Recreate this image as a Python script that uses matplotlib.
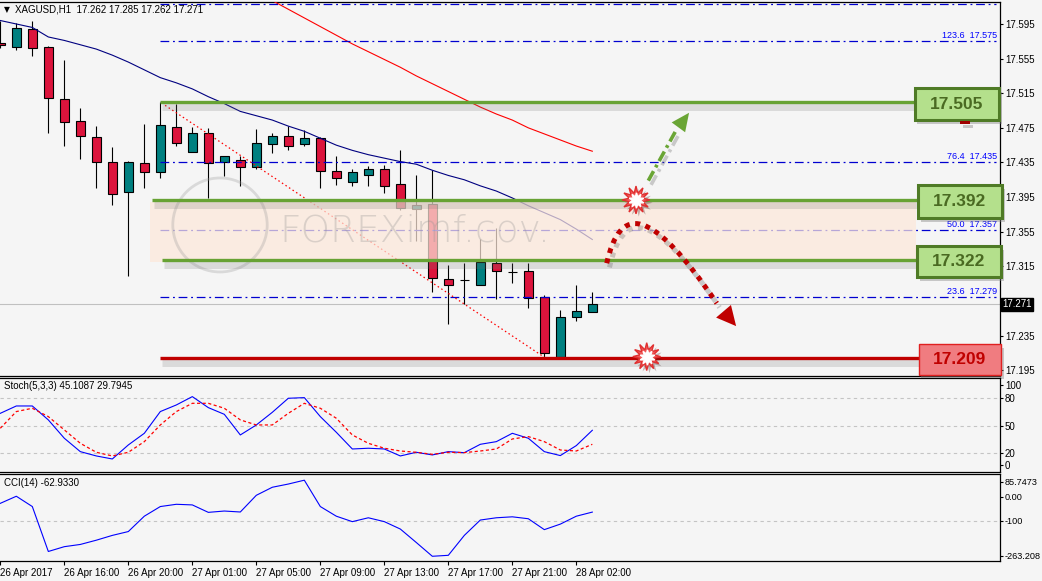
import numpy as np
import matplotlib
matplotlib.use('Agg')
import matplotlib.pyplot as plt
import matplotlib.patheffects as pe
import matplotlib.transforms as mtrans
from matplotlib.patches import Rectangle, Ellipse, PathPatch
from matplotlib.path import Path

plt.rcParams['font.family'] = ['Liberation Sans', 'DejaVu Sans']

# ---- data ----
opens = [17.573, 17.568, 17.589, 17.568, 17.508, 17.483, 17.465, 17.436, 17.401, 17.434,
         17.424, 17.476, 17.447, 17.469, 17.435, 17.438, 17.430, 17.456, 17.466, 17.456,
         17.463, 17.425, 17.413, 17.420, 17.428, 17.410, 17.381, 17.387, 17.300, 17.299,
         17.294, 17.319, 17.309, 17.310, 17.279, 17.210, 17.256, 17.262]
highs = [17.598, 17.596, 17.598, 17.570, 17.553, 17.498, 17.477, 17.453, 17.437, 17.480,
         17.505, 17.503, 17.476, 17.475, 17.443, 17.443, 17.474, 17.469, 17.477, 17.473,
         17.465, 17.442, 17.428, 17.431, 17.432, 17.449, 17.421, 17.426, 17.317, 17.319,
         17.347, 17.359, 17.319, 17.319, 17.282, 17.265, 17.293, 17.285]
lows = [17.567, 17.565, 17.558, 17.469, 17.454, 17.439, 17.405, 17.386, 17.304, 17.406,
        17.417, 17.454, 17.447, 17.394, 17.419, 17.408, 17.427, 17.446, 17.449, 17.454,
        17.405, 17.409, 17.408, 17.408, 17.400, 17.380, 17.344, 17.285, 17.248, 17.272,
        17.294, 17.277, 17.296, 17.267, 17.209, 17.209, 17.252, 17.262]
closes = [17.571, 17.590, 17.567, 17.509, 17.482, 17.466, 17.435, 17.399, 17.436, 17.424,
          17.478, 17.457, 17.469, 17.434, 17.443, 17.430, 17.458, 17.466, 17.454, 17.463,
          17.425, 17.417, 17.424, 17.428, 17.408, 17.382, 17.386, 17.301, 17.294, 17.299,
          17.320, 17.310, 17.309, 17.278, 17.215, 17.256, 17.263, 17.271]

ma_blue = [17.599, 17.595, 17.591, 17.580, 17.576, 17.571, 17.566, 17.559, 17.551, 17.542,
           17.533, 17.527, 17.520, 17.511, 17.503, 17.494, 17.489, 17.484, 17.477, 17.471,
           17.463, 17.455, 17.449, 17.444, 17.440, 17.436, 17.433, 17.426, 17.420, 17.415,
           17.408, 17.402, 17.394, 17.385, 17.377, 17.369, 17.358, 17.346]
ma_red_start = 15
ma_red = [17.641, 17.632, 17.622, 17.612, 17.602, 17.592, 17.582, 17.572, 17.563, 17.554,
          17.545, 17.535, 17.526, 17.517, 17.508, 17.499, 17.491, 17.484, 17.475, 17.468,
          17.461, 17.454, 17.448]

stoch_main = [63.6, 71.6, 71.6, 56.4, 36.4, 21.8, 17.1, 13.8, 29.1, 41.8,
              65.5, 72.7, 81.8, 69.8, 62.5, 40.0, 50.9, 64.7, 80.0, 80.7,
              60.0, 42.9, 24.7, 25.5, 24.7, 17.1, 21.1, 18.2, 21.8, 20.7,
              29.8, 32.7, 41.8, 36.4, 21.8, 17.5, 28.4, 45.1]
stoch_signal = [47.3, 65.5, 69.1, 60.0, 45.5, 30.9, 21.1, 17.1, 21.1, 32.7,
                50.9, 65.5, 74.5, 74.5, 69.1, 56.4, 50.9, 50.9, 63.6, 74.5,
                69.1, 58.2, 40.0, 30.9, 25.5, 22.5, 21.1, 18.9, 21.1, 20.7,
                22.5, 24.7, 35.6, 38.2, 32.7, 23.6, 22.5, 29.8]
cci = [-26.4, 3.1, -39.8, -227.0, -207.0, -197.7, -180.0, -160.0, -144.0, -80.0,
       -39.8, -30.4, -33.0, -64.0, -58.5, -62.5, 7.1, 40.6, 54.0, 70.0,
       -39.8, -80.0, -102.7, -86.6, -102.7, -133.5, -189.7, -247.0, -243.0, -160.0,
       -96.0, -86.6, -82.6, -90.6, -136.0, -113.0, -80.0, -62.9]

time_labels = ['26 Apr 2017', '26 Apr 16:00', '26 Apr 20:00', '27 Apr 01:00', '27 Apr 05:00',
               '27 Apr 09:00', '27 Apr 13:00', '27 Apr 17:00', '27 Apr 21:00', '28 Apr 02:00']

fib_values = [17.618, 17.575, 17.435, 17.357, 17.279]
fib_names = ['', '123.6', '76.4', '50.0', '23.6']
level_up = 17.505
level_mid_hi = 17.392
level_mid_lo = 17.322
level_low = 17.209
last_price = 17.271
price_ticks = [17.595, 17.555, 17.515, 17.475, 17.435, 17.395, 17.355, 17.315, 17.235, 17.195]

bg = '#f5f5f5'
green = '#67a234'
fib_blue = '#0000d0'

fig = plt.figure(figsize=(10.42, 5.81), dpi=100, facecolor=bg)
ax = fig.add_axes([0, 0.35284, 0.95969, 0.64372], facecolor=bg)
ax2 = fig.add_axes([0, 0.18761, 0.95969, 0.16179], facecolor=bg, sharex=ax)
ax3 = fig.add_axes([0, 0.03442, 0.95969, 0.14974], facecolor=bg, sharex=ax)

x = np.arange(len(opens))
o = np.array(opens); h = np.array(highs); l = np.array(lows); c = np.array(closes)
up = c >= o

# ---- main price panel ----
ax.vlines(x, l, h, color='black', lw=0.8, zorder=2)
body_col = np.where(up, '#008080', '#dc143c')
ax.bar(x, np.abs(c - o), bottom=np.minimum(o, c), width=0.6, color=body_col,
       edgecolor='black', linewidth=0.8, zorder=3)

ax.plot(x, ma_blue, color='#000080', lw=0.8, zorder=3)
ax.plot(np.arange(ma_red_start, ma_red_start + len(ma_red)), ma_red, color='#ff0000', lw=0.8, zorder=3)

# fibonacci
for v, name in zip(fib_values, fib_names):
    ax.plot([10, 62.2], [v, v], color=fib_blue, lw=0.9, dashes=(7, 3, 1.5, 3), zorder=3)
    if name:
        ax.text(62.3, v + 0.0012, f'{name}  {v:.3f}', color='#0000ff', fontsize=6.5,
                ha='right', va='bottom', zorder=3)
ax.plot([10.3, 34], [level_up - 0.004, level_low + 0.001], color='#ff0000', lw=0.9,
        ls=(0, (1.2, 2.2)), zorder=3)

# current price line
ax.axhline(last_price, color='#c0c0c0', lw=0.8, zorder=1)

# shaded zone
ax.add_patch(Rectangle((9.36, 17.3201), 57.2 - 9.36, 17.3894 - 17.3201, facecolor='#fde8da',
                       edgecolor='none', alpha=0.72, zorder=4))

# watermark
ax.add_patch(Ellipse((13.73, 17.3628), 5.9, 0.1086, fill=False, edgecolor='#9a9a9a',
                     lw=2, alpha=0.3, zorder=5))
ax.text(25.9, 17.356, 'FOREXimf.cov.', fontsize=27, color='#909090', alpha=0.3,
        ha='center', va='center', zorder=5, family='DejaVu Sans', fontweight='light')

shadow = [pe.SimpleLineShadow(offset=(1.5, -3.5), shadow_color='#707070', alpha=0.2, linewidth=5), pe.Normal()]
for v, x0, x1, col in [(level_up, 10, 57.2, green), (level_mid_hi, 9.5, 57.3, green),
                       (level_mid_lo, 10.1, 57.3, green), (level_low, 10, 57.4, '#c00000')]:
    ax.plot([x0, x1], [v, v], color=col, lw=2.4, zorder=6, path_effects=shadow, solid_capstyle='butt')

box_shadow = [pe.withSimplePatchShadow(offset=(2, -3), shadow_rgbFace='#808080', alpha=0.4)]
boxes = [(level_up, 57.14, 62.44, 17.4841, 17.5207),
         (level_mid_hi, 57.34, 62.59, 17.3706, 17.4090),
         (level_mid_lo, 57.28, 62.53, 17.3024, 17.3385)]
for v, bx0, bx1, by0, by1 in boxes:
    ax.add_patch(Rectangle((bx0, by0), bx1 - bx0, by1 - by0, facecolor='#b4e08c', edgecolor='#4f7b26',
                           lw=2.2, zorder=7, clip_on=False, path_effects=box_shadow))
    ax.text((bx0 + bx1) / 2, (by0 + by1) / 2, f'{v:.3f}', fontsize=12.5, fontweight='bold',
            color='#4a6a22', ha='center', va='center', zorder=8, clip_on=False)
ax.add_patch(Rectangle((57.39, 17.1895), 62.53 - 57.39, 17.2250 - 17.1895, facecolor='#f07c80',
                       edgecolor='#e02020', lw=1, zorder=7, clip_on=False, path_effects=box_shadow))
ax.text((57.39 + 62.53) / 2, 17.2072, f'{level_low:.3f}', fontsize=12.5, fontweight='bold',
        color='#c00000', ha='center', va='center', zorder=8)
ax.add_patch(Rectangle((60.0, 17.4794), 0.6, 0.0035, facecolor='#a00000', edgecolor='none',
                       zorder=7, path_effects=box_shadow))

# arrows
arrow_shadow = [pe.SimpleLineShadow(offset=(2, -3), shadow_color='#606060', alpha=0.3), pe.Normal()]
ax.plot([40.5, 42.2], [17.414, 17.471], color='#6aa535', lw=2.6, dashes=(3, 1.2, 0.8, 1.2),
        zorder=9, path_effects=arrow_shadow)
ax.annotate('', xy=(43.15, 17.495), xytext=(42.0, 17.466),
            arrowprops=dict(arrowstyle='-|>,head_length=1.3,head_width=0.6', color='#6aa535', lw=0),
            zorder=9)
curve = Path([(37.90, 17.3186), (38.73, 17.3859), (40.61, 17.3859), (44.78, 17.2723)],
             [Path.MOVETO, Path.CURVE4, Path.CURVE4, Path.CURVE4])
ax.add_patch(PathPatch(curve, fill=False, edgecolor='#c00000', lw=3.6, ls=(0, (1, 1.1)),
                       zorder=9, path_effects=arrow_shadow))
ax.annotate('', xy=(46.1, 17.2435), xytext=(44.7, 17.274),
            arrowprops=dict(arrowstyle='-|>,head_length=1.4,head_width=0.7', color='#c00000', lw=0),
            zorder=9)

# explosions
for ex, ey in [(39.73, 17.3917), (40.40, 17.2107)]:
    ax.plot(ex, ey, marker=(12, 1, 0), markersize=20, color='#f05a5a', markeredgecolor='#e03030',
            zorder=10, path_effects=[pe.SimplePatchShadow(offset=(2, -2), alpha=0.3), pe.Normal()])
    ax.plot(ex, ey, marker=(10, 1, 0), markersize=11, color='white', markeredgecolor='white', zorder=11)

ax.text(0.004, 0.979, '\u25bc', transform=ax.transAxes, fontsize=5.5, ha='left', va='center',
        family='DejaVu Sans')
ax.text(0.015, 0.979, 'XAGUSD,H1  17.262 17.285 17.262 17.271', transform=ax.transAxes,
        fontsize=7, ha='left', va='center')

ax.set_xlim(-0.02, 62.48)
ax.set_ylim(17.1883, 17.6204)
ax.yaxis.tick_right()
ax.set_yticks(price_ticks)
ax.set_yticklabels([f'{v:.3f}' for v in price_ticks])
bt = mtrans.blended_transform_factory(ax.transAxes, ax.transData)
ax.text(1.002, last_price, f'{last_price:.3f}', transform=bt, color='white', fontsize=7,
        ha='left', va='center', bbox=dict(boxstyle='square,pad=0.12', fc='black', ec='black'))

# ---- stochastic ----
ax2.plot(x, stoch_main, color='#0000ff', lw=0.8)
ax2.plot(x, stoch_signal, color='#ff0000', lw=0.9, dashes=(2.5, 2))
for lv in (80, 50, 20):
    ax2.axhline(lv, color='#c4c4c4', lw=0.8, dashes=(3, 3), zorder=0)
ax2.set_ylim(-0.4, 102.1)
ax2.yaxis.tick_right()
ax2.set_yticks([94.5, 80, 50, 20, 7.2])
ax2.set_yticklabels(['100', '80', '50', '20', '0'])
ax2.text(0.004, 0.915, 'Stoch(5,3,3) 45.1087 29.7945', transform=ax2.transAxes, fontsize=7,
         ha='left', va='center')

# ---- CCI ----
ax3.plot(x, cci, color='#0000ff', lw=0.8)
ax3.axhline(-100, color='#c4c4c4', lw=0.8, dashes=(3, 3), zorder=0)
ax3.set_ylim(-266.7, 95.8)
ax3.yaxis.tick_right()
ax3.set_yticks([62.5, 0, -100, -245.8])
ax3.set_yticklabels(['85.7473', '0.00', '-100', '-263.208'])
ax3.text(0.004, 0.897, 'CCI(14) -62.9330', transform=ax3.transAxes, fontsize=7,
         ha='left', va='center')
ax3.set_xticks(np.arange(0, 40, 4))
ax3.set_xticklabels(time_labels, ha='left')

for a in (ax, ax2, ax3):
    a.spines['left'].set_visible(False)
    for s in ('right', 'top', 'bottom'):
        a.spines[s].set_linewidth(0.9)
        a.spines[s].set_color('black')
    a.tick_params(axis='y', direction='out', length=2, width=0.8, labelsize=7, pad=1.5)
    a.tick_params(axis='x', direction='out', length=3, width=0.8, labelsize=7, pad=2)
for a in (ax, ax2):
    a.tick_params(axis='x', bottom=False, labelbottom=False)
ax3.tick_params(axis='y', labelsize=6.6)

fig.savefig('out.png', dpi=100, facecolor=bg)
